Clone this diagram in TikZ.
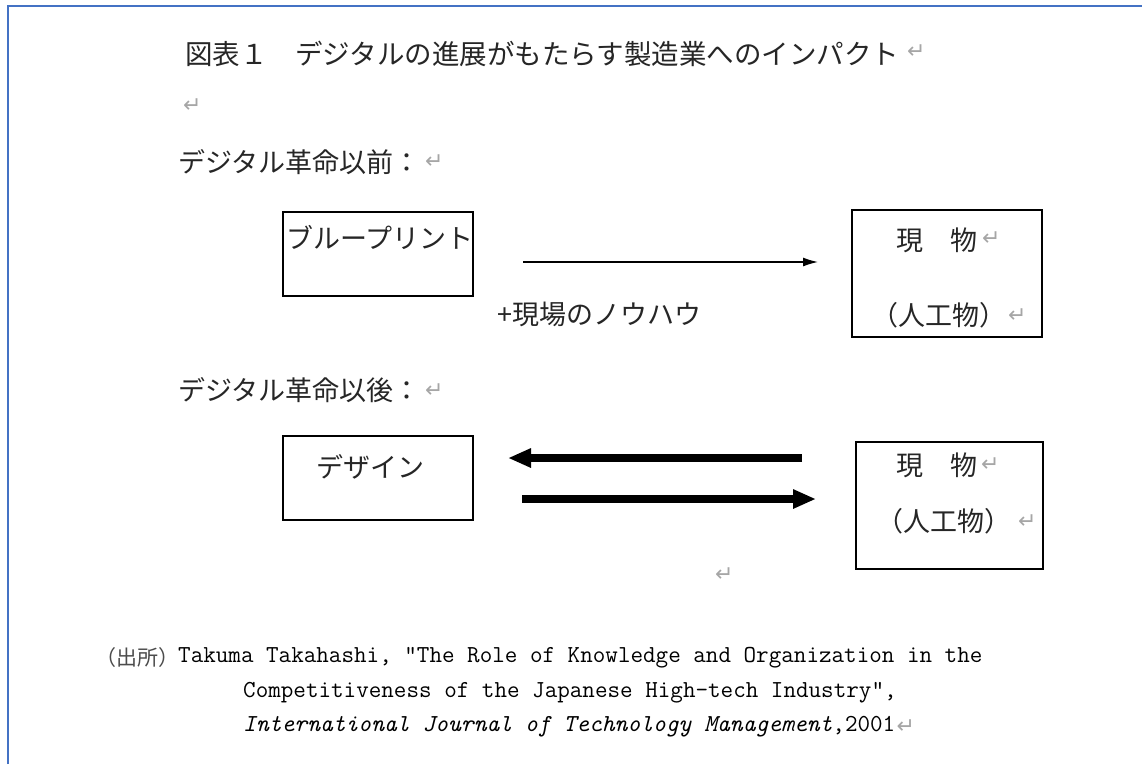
\documentclass[tikz,border=0pt]{standalone}
\usepackage{fontspec}
\usetikzlibrary{arrows.meta}
\newfontfamily\jp{Noto Sans CJK JP}
\newfontfamily\symf{DejaVu Sans}
\definecolor{wordblue}{HTML}{4472C4}
\begin{document}
\begin{tikzpicture}[x=1pt,y=-1pt,
  jtext/.style={anchor=west, inner sep=0pt, font=\jp\fontsize{27}{32}\selectfont, text=black!85},
  ctext/.style={anchor=west, inner sep=0pt, font=\ttfamily\fontsize{24.4}{28}\selectfont, text=black},
  ret/.style={anchor=west, inner sep=0pt, font=\symf\fontsize{22}{24}\selectfont, text=black!35},
  box/.style={draw=black, line width=1.5pt, inner sep=0pt},
  thinarrow/.style={line width=1.3pt, -{Latex[length=15pt,width=9pt]}},
  thickarrow/.style={line width=8pt, -{Triangle[length=23pt,width=18pt]}}]
\useasboundingbox (0,0) rectangle (1142,764);
\fill[white] (0,0) rectangle (1142,764);
% page border
\draw[wordblue, line width=2pt] (8,764) -- (8,6) -- (1142,6);

% title
\node[jtext, font=\jp\fontsize{27.5}{32}\selectfont] (title) at (185,54) {図表１　デジタルの進展がもたらす製造業へのインパクト};
\node[ret] (r1) at (907,52) {↵};
\node[ret] (r2) at (183,106) {↵};

% before
\node[jtext] (before) at (178,162) {デジタル革命以前：};
\node[ret] (r3) at (425,162) {↵};
\node[box, minimum width=190pt, minimum height=84pt] (bp) at (378,254) {};
\node[jtext] (bptext) at (286,237) {ブループリント};
\node[box, minimum width=190pt, minimum height=127pt] (obj1) at (947,273.5) {};
\node[jtext] (obj1a) at (896,240) {現　物};
\node[ret] (r4) at (982,239) {↵};
\node[jtext] (obj1b) at (871,315) {（人工物）};
\node[ret] (r5) at (1008,316) {↵};
\coordinate (a1s) at (523,262);
\coordinate (a1e) at (818,262);
\draw[thinarrow] (a1s) -- (a1e);
\node[jtext] (knowhow) at (497,314) {+現場のノウハウ};

% after
\node[jtext] (after) at (178,390) {デジタル革命以後：};
\node[ret] (r6) at (425,391) {↵};
\node[box, minimum width=190pt, minimum height=84pt] (design) at (378,478) {};
\node[jtext] (designtext) at (316,467) {デザイン};
\node[box, minimum width=187pt, minimum height=127pt] (obj2) at (949.5,505.5) {};
\node[jtext] (obj2a) at (896,465) {現　物};
\node[ret] (r7) at (981,465) {↵};
\node[jtext] (obj2b) at (876,521) {（人工物）};
\node[ret] (r8) at (1018,522) {↵};
\coordinate (a2s) at (802,458);
\coordinate (a2e) at (508,458);
\coordinate (a3s) at (522,499);
\coordinate (a3e) at (816,499);
\draw[thickarrow] (a2s) -- (a2e);
\draw[thickarrow] (a3s) -- (a3e);
\node[ret] (r9) at (715,575) {↵};

% source
\node[anchor=west, inner sep=0pt, font=\jp\fontsize{21}{24}\selectfont, text=black!70] (src) at (95,658) {（出所）};
\node[ctext] (c1) at (178,658) {Takuma Takahashi, “The Role of Knowledge and Organization in the};
\node[ctext] (c2) at (243,693) {Competitiveness of the Japanese High-tech Industry”,};
\node[ctext] (c3) at (243,727) {\textit{International Journal of Technology Management},2001};
\node[ret] (r10) at (c3.east) [anchor=west,xshift=1pt] {↵};
\end{tikzpicture}
\end{document}
